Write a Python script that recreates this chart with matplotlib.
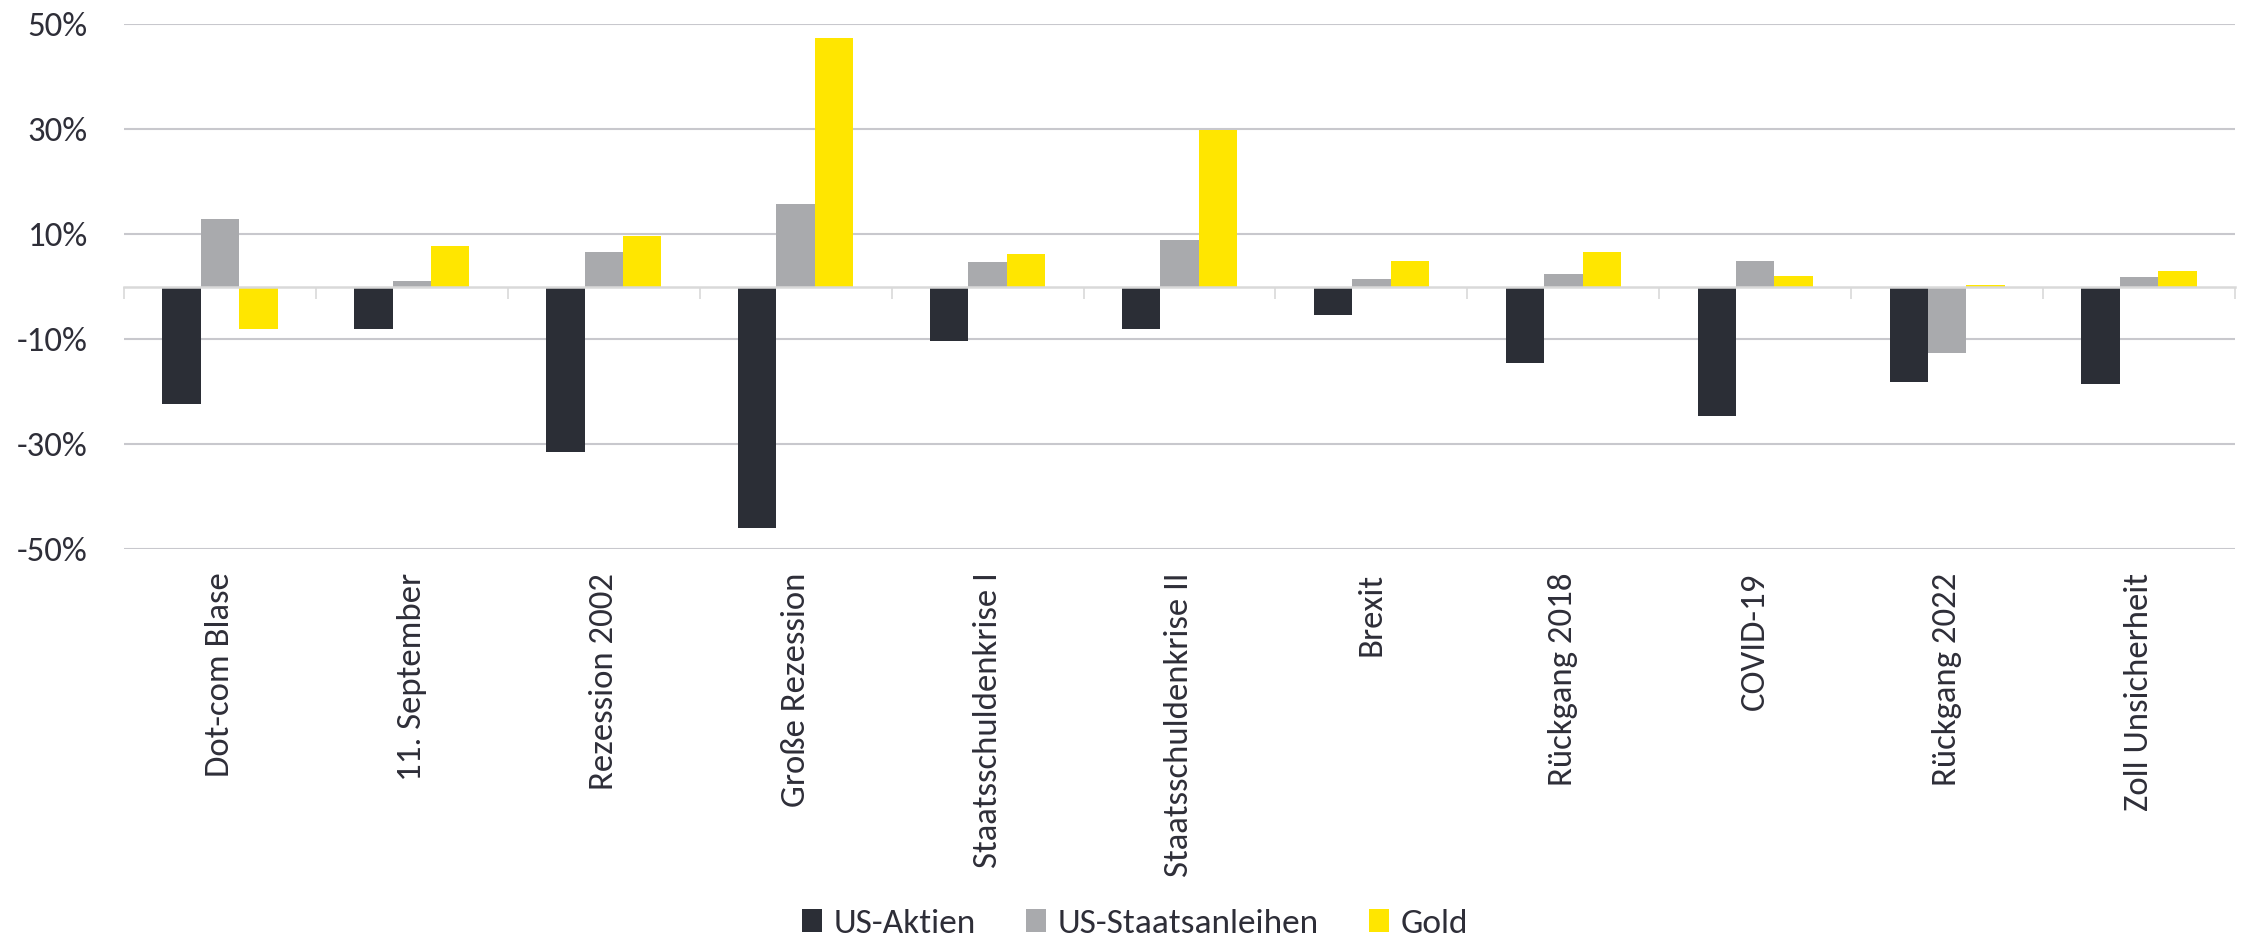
import numpy as np
import matplotlib
matplotlib.use("Agg")
import matplotlib.pyplot as plt

categories = ["Dot-com Blase", "11. September", "Rezession 2002", "Große Rezession",
              "Staatsschuldenkrise I", "Staatsschuldenkrise II", "Brexit",
              "Rückgang 2018", "COVID-19", "Rückgang 2022", "Zoll Unsicherheit"]
series_names = ["US-Aktien", "US-Staatsanleihen", "Gold"]
us_aktien = [-22.3, -8.0, -31.5, -46.0, -10.4, -8.0, -5.5, -14.6, -24.6, -18.2, -18.6]
us_anleihen = [12.8, 1.0, 6.6, 15.8, 4.6, 8.9, 1.5, 2.3, 4.9, -12.6, 1.9]
gold = [-8.0, 7.7, 9.7, 47.3, 6.1, 29.8, 4.9, 6.6, 2.0, 0.35, 3.0]
y_ticks = [-50, -30, -10, 10, 30, 50]

colors = ["#2b2e36", "#a9aaad", "#ffe600"]
text_color = "#2e2e38"

plt.rcParams['font.family'] = ['Carlito', 'Liberation Sans Narrow', 'DejaVu Sans']

fig = plt.figure(figsize=(22.5, 9.4), dpi=100)
ax = fig.add_axes([124/2250, 1-549/940, (2235-124)/2250, (549-24)/940])

x = np.arange(len(categories))
w = 0.2
for i, (vals, name) in enumerate(zip([us_aktien, us_anleihen, gold], series_names)):
    ax.bar(x + (i - 1) * w, vals, width=w, color=colors[i], label=name, zorder=2)

ax.set_xlim(-0.5, len(categories) - 0.5)
ax.set_ylim(-50, 50)
ax.set_yticks(y_ticks)
ax.set_yticklabels([f"{v}%" for v in y_ticks])
ax.yaxis.grid(True, color="#c8c8cd", lw=1.5)
ax.set_axisbelow(True)
ax.tick_params(axis='y', length=0, pad=26, labelsize=25, labelcolor=text_color)

for s in ['top', 'right', 'left']:
    ax.spines[s].set_visible(False)
ax.spines['bottom'].set_position(('data', 0))
ax.spines['bottom'].set_color('#d9d9d9')
ax.spines['bottom'].set_linewidth(1.8)
ax.spines['bottom'].set_zorder(3)
ax.set_xticks(np.arange(-0.5, len(categories), 1))
ax.set_xticklabels([])
ax.tick_params(axis='x', direction='out', length=8.6, width=1.2, color='#d9d9d9')

sec = ax.secondary_xaxis('bottom')
sec.set_xticks(x)
sec.set_xticklabels(categories, rotation=90, fontsize=25, color=text_color)
sec.tick_params(length=0, pad=17)
sec.spines['bottom'].set_visible(False)

handles, labels = ax.get_legend_handles_labels()
fig.legend(handles, labels, loc='center', bbox_to_anchor=(1135/2250, 1-924/940),
           ncol=3, frameon=False, fontsize=25.5, labelcolor=text_color,
           handlelength=0.58, handleheight=0.58, handletextpad=0.33,
           columnspacing=1.4, borderpad=0, borderaxespad=0)

fig.savefig("out.png", dpi=100)
